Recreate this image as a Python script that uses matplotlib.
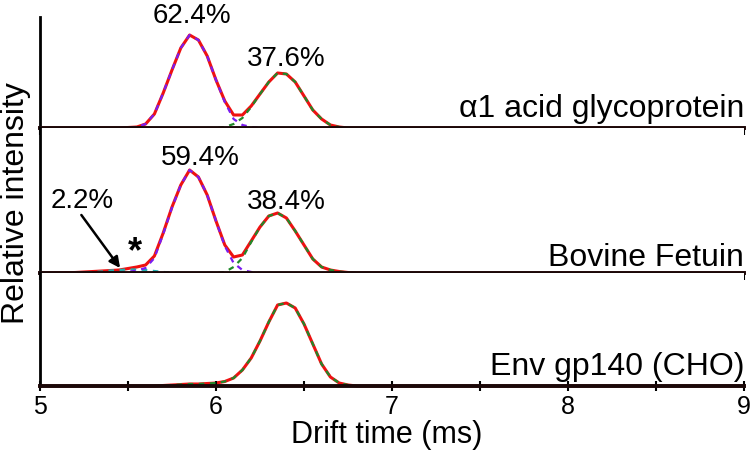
import numpy as np
import matplotlib
matplotlib.use("Agg")
import matplotlib.pyplot as plt
from matplotlib.ticker import MultipleLocator

n = np.nan

# drift time grid (ms)
drift = [5.00, 5.20, 5.25, 5.30, 5.35, 5.40, 5.45, 5.50, 5.55, 5.60, 5.65, 5.70,
         5.75, 5.80, 5.85, 5.90, 5.95, 6.00, 6.05, 6.10, 6.15, 6.20, 6.25, 6.30,
         6.35, 6.40, 6.45, 6.50, 6.55, 6.60, 6.65, 6.70, 6.75, 6.80, 6.85, 9.00]

# alpha1 acid glycoprotein
agp_total = [0, 0, 0, 0, 0, 0, 0, 0.5, 1, 4, 14, 35, 58, 80, 93, 88, 72, 48,
             27, 13, 13, 22, 34, 46, 55, 54, 46, 32, 18, 9, 3, 1, 0, 0, 0, 0]
agp_fit1 = [n, n, n, n, n, n, 0, 0.5, 1, 4, 14, 35, 58, 80, 93, 88, 72, 48,
            26, 9, 3, 1, 0, n, n, n, n, n, n, n, n, n, n, n, n, n]
agp_fit2 = [n, n, n, n, n, n, n, n, n, n, n, n, n, n, n, n, 0, 0,
            1, 4, 10, 21, 34, 46, 55, 54, 46, 32, 18, 9, 3, 1, 0, 0, n, n]

# bovine fetuin
fet_total = [0, 0.5, 1, 1.5, 2, 2.5, 3, 4.5, 6, 8, 17, 40, 66, 88, 103, 96, 78, 52,
             28, 16, 18, 32, 46, 57, 60, 55, 42, 28, 14, 6, 3, 1.5, 0.5, 0, 0, 0]
fet_fit0 = [n, 0, 0.5, 1, 1.5, 2.5, 3, 3.5, 3.5, 3, 2, 1, 0.5, 0, n, n, n, n,
            n, n, n, n, n, n, n, n, n, n, n, n, n, n, n, n, n, n]
fet_fit1 = [n, n, n, n, n, n, 0, 1, 2.5, 5, 15, 39, 65.5, 88, 103, 96, 78, 52,
            27, 10, 3, 1, 0, n, n, n, n, n, n, n, n, n, n, n, n, n]
fet_fit2 = [n, n, n, n, n, n, n, n, n, n, n, n, n, n, n, n, 0, 0,
            1, 6, 15, 31, 46, 57, 60, 55, 42, 28, 14, 6, 3, 1.5, 0.5, 0, n, n]

# Env gp140 (CHO)
env_total = [0, 0, 0, 0, 0, 0, 0, 0, 0, 0, 0, 0.5, 1, 1.5, 2, 2, 2.5, 3,
             4.5, 8, 16, 28, 45, 64, 81, 83, 78, 62, 42, 22, 9, 3, 1, 0, 0, 0]
env_fit = [n, n, n, n, n, n, n, n, n, n, 0, 0.5, 1, 1.5, 2, 2, 2.5, 3,
           4.5, 8, 16, 28, 45, 64, 81, 83, 78, 62, 42, 22, 9, 3, 1, 0, n, n]

names = ["\u03b11 acid glycoprotein", "Bovine Fetuin", "Env gp140 (CHO)"]
panel_top = [111, 145, 113]

plt.rcParams['font.family'] = ['Liberation Sans', 'DejaVu Sans']

fig = plt.figure(figsize=(7.55, 4.57), dpi=100)
gs = fig.add_gridspec(3, 1, height_ratios=panel_top, hspace=0,
                      left=40/755, right=744/755, top=1-17/457, bottom=1-386/457)
axs = [fig.add_subplot(gs[i]) for i in range(3)]

red = "#ee1111"
purple = "#7a1cf0"
green = "#1f8a2a"
cyan = "#20b0b0"

def draw(ax, total, fits):
    ax.plot(drift, total, color=red, lw=2.2, zorder=1.5, clip_on=False)
    for f, c in fits:
        ax.plot(drift, f, color=c, lw=1.6, ls=(0, (2.5, 2.5)), zorder=1.8, clip_on=False)

draw(axs[0], agp_total, [(agp_fit1, purple), (agp_fit2, green)])
draw(axs[1], fet_total, [(fet_fit0, cyan), (fet_fit1, purple), (fet_fit2, green)])
draw(axs[2], env_total, [(env_fit, green)])

for i, ax in enumerate(axs):
    ax.set_xlim(5, 9)
    ax.set_ylim(0, panel_top[i])
    ax.spines['top'].set_visible(False)
    ax.spines['right'].set_visible(False)
    ax.spines['left'].set_linewidth(2)
    ax.spines['bottom'].set_linewidth(2.8)
    ax.spines['bottom'].set_color('#1a0808')
    ax.spines['bottom'].set_zorder(3)
    ax.set_yticks([])
    ax.xaxis.set_major_locator(MultipleLocator(1))
    ax.xaxis.set_minor_locator(MultipleLocator(0.5))
    ax.tick_params(axis='x', which='both', direction='out', length=5, width=1.5)
    if i < 2:
        ax.tick_params(axis='x', labelbottom=False)
    ax.text(9.0, 11 if i != 1 else 7, names[i], ha='right', va='baseline', fontsize=23)

axs[2].tick_params(axis='x', which='both', direction='inout', length=7, labelsize=18, pad=3)

axs[0].text(5.864, 112, "62.4%", ha='center', va='center', fontsize=20, clip_on=False)
axs[0].text(6.40, 69, "37.6%", ha='center', va='center', fontsize=20)
axs[1].text(5.91, 115, "59.4%", ha='center', va='center', fontsize=20)
axs[1].text(6.40, 71, "38.4%", ha='center', va='center', fontsize=20)
axs[1].text(5.24, 72, "2.2%", ha='center', va='center', fontsize=20)
axs[1].text(5.54, 20, "*", ha='center', va='center', fontsize=26, fontweight='bold')
axs[1].annotate("", xy=(5.455, 5), xytext=(5.235, 58),
                arrowprops=dict(arrowstyle='-|>', color='black', lw=1.8,
                                mutation_scale=16, shrinkA=0, shrinkB=0))

fig.text(387/755, 1-435/457, "Drift time (ms)", ha='center', va='center', fontsize=22)
fig.text(16/755, 1-203/457, "Relative intensity", ha='center', va='center',
         rotation=90, fontsize=23)

fig.savefig("out.png", dpi=100)
